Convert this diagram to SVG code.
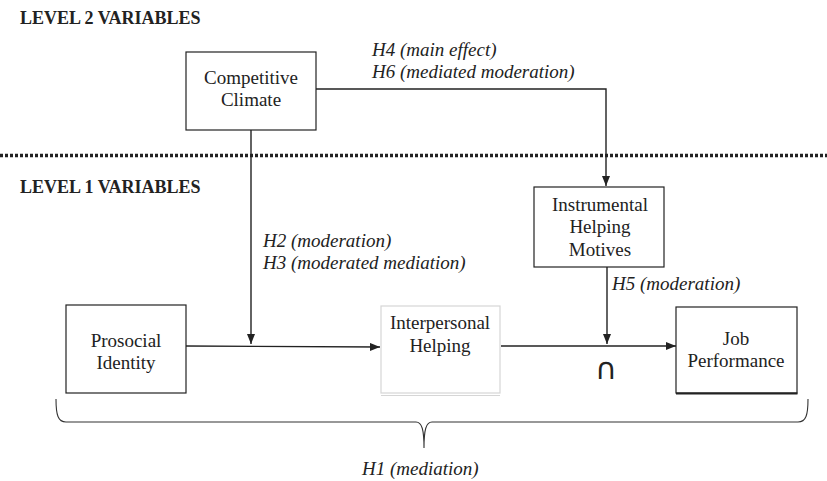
<svg xmlns="http://www.w3.org/2000/svg" width="827" height="481" viewBox="0 0 827 481">
<style>
.lbl{font-size:19px;text-anchor:middle;fill:#222}
.hyp{font-size:19px;font-style:italic;fill:#222}
.lvl{font-size:18px;font-weight:bold;fill:#222}
.box{fill:#fff;stroke:#222;stroke-width:1.2}
.con{fill:none;stroke:#222;stroke-width:1.4}
</style>
<defs>
<marker id="ah" viewBox="0 0 10 8" refX="10" refY="4" markerWidth="10" markerHeight="8" markerUnits="userSpaceOnUse" orient="auto">
<path d="M0,0 L10,4 L0,8 Z" fill="#222"/>
</marker>
</defs>
<rect width="827" height="481" fill="#fff"/>
<g font-family="Liberation Serif, Times New Roman, serif">
<text class="lvl" x="20" y="24">LEVEL 2 VARIABLES</text>
<text class="lvl" x="20" y="193">LEVEL 1 VARIABLES</text>
</g>
<line x1="0" y1="155.5" x2="827" y2="155.5" stroke="#222" stroke-width="3.5" stroke-dasharray="3 2"/>
<g id="connectors">
<path class="con" d="M316,89 H606 V186" stroke-width="1.1" marker-end="url(#ah)"/>
<path class="con" d="M251,130 V344" marker-end="url(#ah)"/>
<path class="con" d="M186,346 L380,347" marker-end="url(#ah)"/>
<path class="con" d="M501,346 H676" marker-end="url(#ah)"/>
<path class="con" d="M607,267 V344" marker-end="url(#ah)"/>
<path d="M56,399 C56,415 58,422 66,422 L416,422 C422,422 424,430 424,448 C424,430 426,422 432,422 L798,422 C806,422 808,415 808,399" fill="none" stroke="#333" stroke-width="1.1"/>
</g>
<g font-family="Liberation Serif, Times New Roman, serif">
<text class="hyp" x="372" y="56">H4 (main effect)</text>
<text class="hyp" x="372" y="78">H6 (mediated moderation)</text>
<text class="hyp" x="263" y="247">H2 (moderation)</text>
<text class="hyp" x="263" y="269">H3 (moderated mediation)</text>
<text class="hyp" x="612" y="290">H5 (moderation)</text>
<text class="hyp" x="362" y="475">H1 (mediation)</text>
</g>
<text x="606" y="379" font-family="DejaVu Sans, sans-serif" font-size="30" fill="#222" text-anchor="middle">∩</text>
<g id="competitive-climate" font-family="Liberation Serif, Times New Roman, serif">
<rect class="box" x="186" y="52" width="130" height="78"/>
<text class="lbl" x="251" y="84">Competitive</text>
<text class="lbl" x="251" y="106">Climate</text>
</g>
<g id="instrumental-helping-motives" font-family="Liberation Serif, Times New Roman, serif">
<rect class="box" x="534" y="187" width="130" height="80"/>
<text class="lbl" x="600" y="211">Instrumental</text>
<text class="lbl" x="600" y="233">Helping</text>
<text class="lbl" x="600" y="256">Motives</text>
</g>
<g id="prosocial-identity" font-family="Liberation Serif, Times New Roman, serif">
<rect class="box" x="66" y="305" width="120" height="88"/>
<text class="lbl" x="126" y="347">Prosocial</text>
<text class="lbl" x="126" y="369">Identity</text>
</g>
<g id="interpersonal-helping" font-family="Liberation Serif, Times New Roman, serif">
<rect x="381" y="306" width="119" height="87" fill="#fff" stroke="#d6d6d6" stroke-width="1.2"/>
<line x1="381" y1="395.5" x2="500" y2="395.5" stroke="#d6d6d6" stroke-width="1"/>
<text class="lbl" x="440" y="329">Interpersonal</text>
<text class="lbl" x="440" y="352">Helping</text>
</g>
<g id="job-performance" font-family="Liberation Serif, Times New Roman, serif">
<rect class="box" x="676" y="307" width="121" height="86"/>
<line x1="676" y1="393.5" x2="797.5" y2="393.5" stroke="#222" stroke-width="2"/>
<text class="lbl" x="736" y="345">Job</text>
<text class="lbl" x="736" y="367">Performance</text>
</g>
</svg>
